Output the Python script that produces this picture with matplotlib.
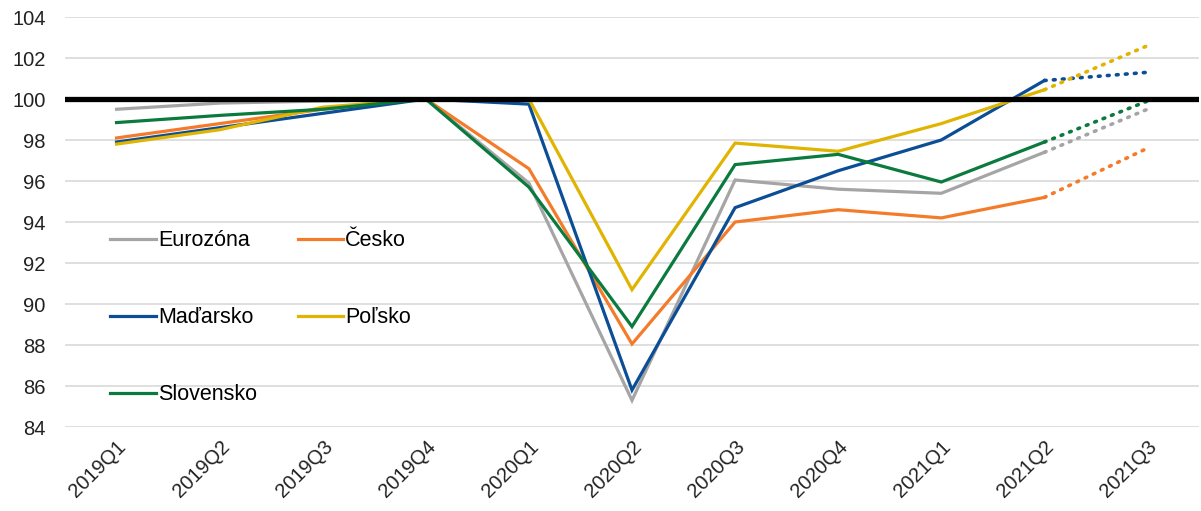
import matplotlib.pyplot as plt

plt.rcParams['font.family'] = ['Liberation Sans', 'DejaVu Sans']

quarters = ["2019Q1", "2019Q2", "2019Q3", "2019Q4", "2020Q1", "2020Q2",
            "2020Q3", "2020Q4", "2021Q1", "2021Q2", "2021Q3"]

eurozona = [99.5, 99.8, 99.9, 100.0, 95.9, 85.3, 96.05, 95.6, 95.4, 97.4, 99.5]
cesko = [98.1, 98.8, 99.5, 100.0, 96.6, 88.05, 94.0, 94.6, 94.2, 95.2, 97.6]
madarsko = [97.9, 98.6, 99.3, 100.0, 99.75, 85.8, 94.7, 96.5, 98.0, 100.9, 101.3]
polsko = [97.8, 98.5, 99.6, 100.0, 100.0, 90.7, 97.85, 97.45, 98.8, 100.45, 102.6]
slovensko = [98.85, 99.2, 99.5, 100.0, 95.7, 88.9, 96.8, 97.3, 95.95, 97.9, 99.9]

series = [
    ("Eurozóna", eurozona, "#A5A5A5"),
    ("Česko", cesko, "#F47B2A"),
    ("Maďarsko", madarsko, "#0B4E96"),
    ("Poľsko", polsko, "#E0B400"),
    ("Slovensko", slovensko, "#0B7A3E"),
]

fig = plt.figure(figsize=(12.01, 5.11), dpi=100)
ax = fig.add_axes([65 / 1201, 1 - 427 / 511, 1134 / 1201, 410 / 511])

x = list(range(len(quarters)))
handles = {}
for name, vals, col in series:
    h, = ax.plot(x[:-1], vals[:-1], color=col, lw=2.3, label=name,
                 solid_joinstyle="miter", zorder=3)
    # last quarter is a forecast -> dotted
    ax.plot(x[-2:], vals[-2:], color=col, lw=2.6, ls=(0, (0.5, 2.0)),
            dash_capstyle="round", zorder=3)
    handles[name] = h

ax.axhline(100, color="black", lw=3.8, zorder=4)

ax.set_xlim(-0.5, len(quarters) - 0.5)
ax.set_ylim(84, 104)
ax.set_yticks(range(84, 105, 2))
ax.grid(axis="y", color="#D9D9D9", lw=1.2, zorder=0)
ax.set_axisbelow(True)
for s in ax.spines.values():
    s.set_visible(False)
ax.tick_params(axis="both", length=0, labelsize=14.5, colors="#222222")
ax.tick_params(axis="y", pad=14)
ax.set_xticks(x)
ax.set_xticklabels(quarters, rotation=45, ha="right", rotation_mode="anchor")
ax.tick_params(axis="x", pad=7)

# legend is filled column by column, so order for row-wise reading
order = ["Eurozóna", "Maďarsko", "Slovensko", "Česko", "Poľsko"]
leg = ax.legend(handles=[handles[n] for n in order], ncol=2, loc="upper left",
                bbox_to_anchor=(0.023, 0.527), frameon=False, fontsize=15.5,
                labelspacing=2.6, handlelength=2.1, handletextpad=0.1,
                columnspacing=1.9)

fig.savefig("out.png", dpi=100, facecolor="white")
